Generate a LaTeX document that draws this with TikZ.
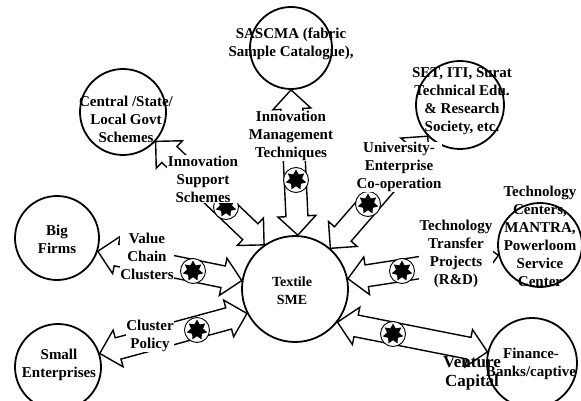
\documentclass[tikz,border=0pt]{standalone}
\usepackage{fontspec}
\setmainfont{Liberation Serif}
\usetikzlibrary{calc,shapes.geometric}
\newcommand\blockarrow[2]{%
  \draw[barrow] (#1)
   -- ($(#1)!19pt!(#2)!19pt!90:(#2)$)
   -- ($(#1)!19pt!(#2)!11pt!90:(#2)$)
   -- ($(#2)!19pt!(#1)!11pt!-90:(#1)$)
   -- ($(#2)!19pt!(#1)!19pt!-90:(#1)$)
   -- (#2)
   -- ($(#2)!19pt!(#1)!19pt!90:(#1)$)
   -- ($(#2)!19pt!(#1)!11pt!90:(#1)$)
   -- ($(#1)!19pt!(#2)!11pt!-90:(#2)$)
   -- ($(#1)!19pt!(#2)!19pt!-90:(#2)$)
   -- cycle;}
\begin{document}
\begin{tikzpicture}[x=1pt,y=-1pt,
  ent/.style={circle,draw,line width=1.8pt,minimum size=#1,inner sep=0pt},
  lbl/.style={font=\fontsize{15}{18}\selectfont\bfseries,align=center,inner sep=0.5pt},
  lblw/.style={lbl,fill=white},
  blob/.style={circle,draw,line width=0.9pt,fill=white,minimum size=25pt,inner sep=0pt},
  burst/.style={star,star points=7,star point ratio=1.7,fill=black,minimum size=21pt,inner sep=0pt},
  barrow/.style={draw,line width=1.4pt,fill=white,line join=miter}]
\useasboundingbox (0,0) rectangle (581,401);

% entity circles
\node[ent=82pt] (sas) at (291,48) {};
\node[ent=86pt] (gov) at (123,112) {};
\node[ent=88pt] (set) at (460,105) {};
\node[ent=84pt] (tc) at (540,245) {};
\node[ent=84pt] (big) at (57,238) {};
\node[ent=86pt] (small) at (58,367) {};
\node[ent=90pt] (fin) at (532,363) {};
\node[ent=106pt] (sme) at (295,289) {};

% block arrows
\blockarrow{sas.-90}{sme.87}
\blockarrow{gov.-42}{sme.125}
\blockarrow{set.-136}{sme.49}
\blockarrow{tc.-166}{sme.11}
\blockarrow{fin.166}{sme.-38}
\blockarrow{big.-18}{sme.171}
\blockarrow{small.18}{sme.-153}

% small symbols
\foreach \n/\p in {b1/{296,180}, b2/{226,207}, b3/{368,204}, b4/{402,271}, b5/{393,334}, b6/{193,271}, b7/{197,330}}{
  \node[blob] (\n) at (\p) {};
  \node[burst] (\n s) at (\p) {};
}

% circle texts
\node[lbl] (sast) at (291,44) {SASCMA (fabric\\Sample Catalogue),};
\node[lbl] (govt) at (126,119) {Central /State/\\Local Govt\\Schemes};
\node[lbl] (sett) at (462,101) {SET, ITI, Surat\\Technical Edu.\\\& Research\\Society, etc.};
\node[lbl] (tct) at (540,236) {Technology\\Centers,\\MANTRA,\\Powerloom\\Service\\Center};
\node[lbl] (bigt) at (57,239) {Big\\Firms};
\node[lbl] (smallt) at (59,365) {Small\\Enterprises};
\node[lbl,font=\fontsize{14}{18}\selectfont\bfseries] (smet) at (292,291) {Textile\\SME};

% arrow labels
\node[lblw] (l1) at (291,136) {Innovation\\Management\\Techniques};
\node[lblw] (l2) at (203,179) {Innovation\\Support\\Schemes};
\node[lblw] (l3) at (399,167) {University-\\Enterprise\\Co-operation};
\node[lblw] (l4) at (456,254) {Technology\\Transfer\\Projects\\(R\&D)};
\node[lblw] (l6) at (147,256) {Value\\Chain\\Clusters};
\node[lblw] (l7) at (150,336) {Cluster\\Policy};
\node[lbl,font=\fontsize{17}{19}\selectfont\bfseries] (l5) at (472,373) {Venture\\Capital};
\node[lbl] (fint) at (531,364) {Finance-\\Banks/captive};
\end{tikzpicture}
\end{document}
